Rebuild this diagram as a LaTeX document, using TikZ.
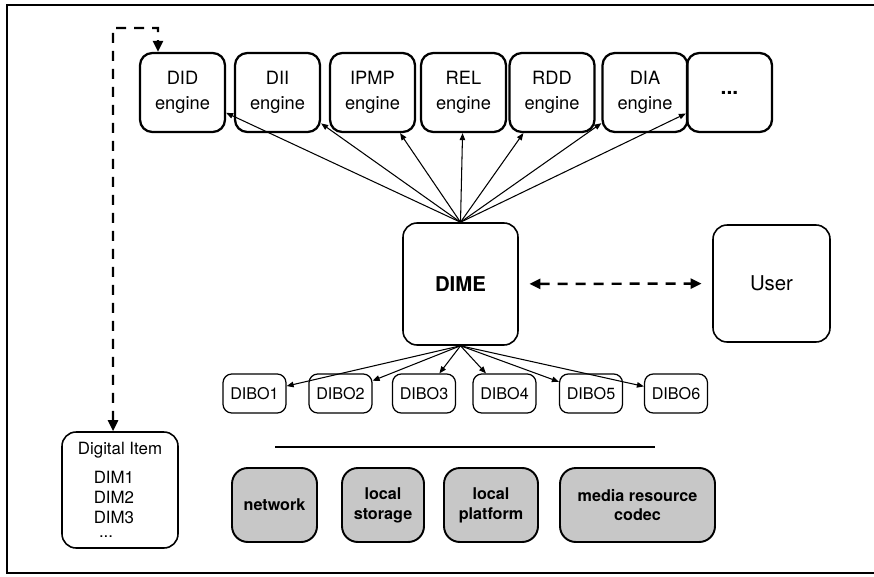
\documentclass[tikz,border=0pt]{standalone}
\usepackage{fontspec}
\setmainfont{TeX Gyre Heros}
\usetikzlibrary{arrows.meta,positioning,calc}

\begin{document}
\begin{tikzpicture}[
  x=0.02cm,y=-0.02cm,
  engine/.style={draw,line width=1.3pt,rounded corners=7pt,align=center,inner sep=0pt,
    minimum width=1.7cm,minimum height=1.58cm,font=\fontsize{10.4}{14.5}\selectfont},
  bigbox/.style={draw,line width=0.9pt,rounded corners=8pt,inner sep=0pt,
    minimum width=2.32cm,minimum height=2.4cm,font=\fontsize{11.6}{14}\selectfont},
  dibo/.style={draw,line width=0.7pt,rounded corners=5pt,inner sep=0pt,
    minimum width=1.26cm,minimum height=0.78cm,font=\fontsize{9.2}{11}\selectfont},
  res/.style={draw,line width=1.1pt,rounded corners=9pt,fill=black!22,align=center,inner sep=0pt,
    minimum height=1.48cm,font=\fontsize{9.2}{11.3}\selectfont\bfseries},
  flow/.style={-{Triangle[length=1.4mm,width=1.1mm]},line width=0.6pt},
  dflow/.style={{Triangle[length=2.2mm,width=2mm]}-{Triangle[length=2.2mm,width=2mm]},
    line width=1.4pt,dash pattern=on 2mm off 1.6mm}
]
\useasboundingbox (0,0) rectangle (874,577);
% frame of the figure
\draw[line width=1pt] (874,5) -- (7,5) -- (7,573) -- (874,573);
\node[engine] (did)  at (182.5,92.5) {DID\\engine};
\node[engine] (dii)  at (277.5,92.5) {DII\\engine};
\node[engine] (ipmp) at (372.5,92.5) {IPMP\\engine};
\node[engine] (rel)  at (463.5,92.5) {REL\\engine};
\node[engine] (rdd)  at (552,92.5) {RDD\\engine};
\node[engine] (dia)  at (645,92.5) {DIA\\engine};
\node[engine] (more) at (729.5,92.5) {\bfseries\large ...};
\node[bigbox,minimum width=2.3cm,minimum height=2.44cm,font=\fontsize{11.6}{14}\selectfont\bfseries] (dime) at (460.5,284) {DIME};
\node[bigbox,minimum width=2.34cm,minimum height=2.34cm] (user) at (771.5,283.5) {User};
\node[dibo] (dibo1) at (254.5,393.5) {DIBO1};
\node[dibo] (dibo2) at (340.5,393.5) {DIBO2};
\node[dibo] (dibo3) at (424,393.5) {DIBO3};
\node[dibo] (dibo4) at (504.5,393.5) {DIBO4};
\node[dibo] (dibo5) at (591,393.5) {DIBO5};
\node[dibo] (dibo6) at (676,393.5) {DIBO6};
\node[bigbox,minimum width=2.32cm,minimum height=2.32cm,align=left,
  font=\fontsize{9.6}{11.3}\selectfont] (item) at (120,490)
  {Digital Item\\[5pt]\hspace*{9pt}DIM1\\\hspace*{9pt}DIM2\\\hspace*{9pt}DIM3\\[-3pt]\hspace*{12pt}...};
\node[res,minimum width=1.7cm]  (net)  at (274.5,505) {network};
\node[res,minimum width=1.64cm] (stor) at (383,505) {local\\storage};
\node[res,minimum width=1.88cm] (plat) at (491,505) {local\\platform};
\node[res,minimum width=3.1cm]  (media) at (637.5,505) {media resource\\codec};
% separator between objects and resources
\draw[line width=1.2pt] (275,447) -- (655,447);
\draw[flow] (dime.north) -- (did);
\draw[flow] (dime.north) -- (dii);
\draw[flow] (dime.north) -- (ipmp);
\draw[flow] (dime.north) -- (rel);
\draw[flow] (dime.north) -- (rdd);
\draw[flow] (dime.north) -- (dia);
\draw[flow] (dime.north) -- (more);
\draw[flow] (dime.south) -- (dibo1);
\draw[flow] (dime.south) -- (dibo2);
\draw[flow] (dime.south) -- (dibo3);
\draw[flow] (dime.south) -- (dibo4);
\draw[flow] (dime.south) -- (dibo5);
\draw[flow] (dime.south) -- (dibo6);
\draw[dflow,shorten <=6pt,shorten >=6pt] (dime) -- (user);
\coordinate (corner) at (113,28);
\draw[dflow] ([xshift=-0.14cm]item.north) -- (corner) -| ([xshift=-0.49cm]did.north);
\end{tikzpicture}
\end{document}
